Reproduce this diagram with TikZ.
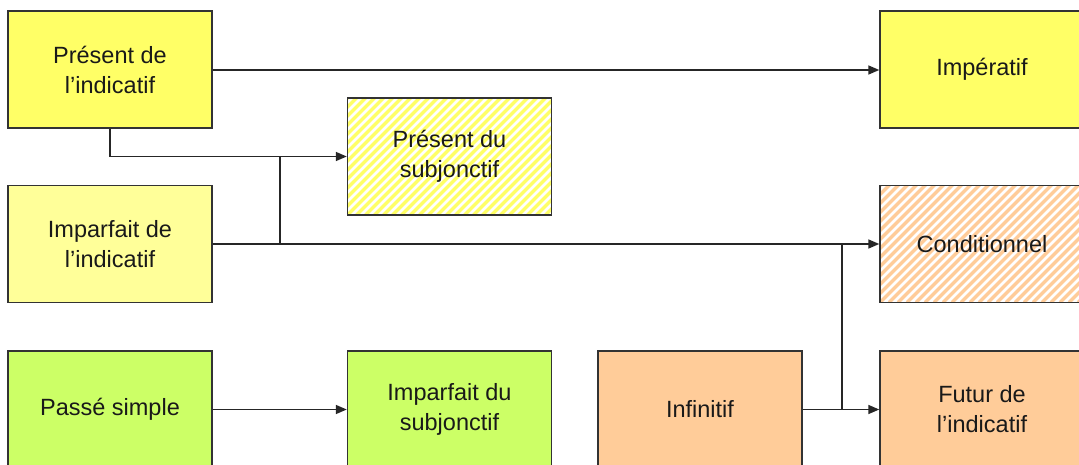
\documentclass[tikz,border=0pt]{standalone}
\usepackage{fontspec}
\setmainfont{Liberation Sans}
\usetikzlibrary{arrows.meta}
\definecolor{yelA}{HTML}{FFFF66}
\definecolor{yelB}{HTML}{FFFF99}
\definecolor{grn}{HTML}{CCFF66}
\definecolor{org}{HTML}{FFCC99}
\definecolor{edge}{HTML}{333333}
\tikzset{
  box/.style={draw=edge, line width=1.4pt, minimum width=204pt, minimum height=117pt,
    inner sep=0pt, align=center, font=\fontsize{23.5}{30}\selectfont, text=black!90},
  hatch/.style={path picture={
    \foreach \i in {-144,-135,...,225}
      \draw[#1, line width=3.3pt] ([xshift=\i pt]path picture bounding box.south west) -- ++(130pt,130pt);
  }},
  conn/.style={draw=black!85, line width=1.4pt},
  arr/.style={conn, -{Triangle[length=11pt,width=9pt]}}
}
\begin{document}
\begin{tikzpicture}[x=1pt,y=-1pt]
\useasboundingbox (0,0) rectangle (1079,465);
\clip (0,0) rectangle (1079,465);
\fill[white] (0,0) rectangle (1079,465);
\node[box, fill=yelA] (P1) at (110,69.5) {Présent de\\l’indicatif};
\node[box, fill=yelA] (Imp) at (982,69.5) {Impératif};
\node[box, fill=white, hatch=yelA] (PS) at (449.5,156.5) {Présent du\\subjonctif};
\node[box, fill=yelB] (II) at (110,244) {Imparfait de\\l’indicatif};
\node[box, fill=white, hatch=org] (Cond) at (982,244) {Conditionnel};
\node[box, fill=grn] (PassS) at (110,409.5) {Passé simple};
\node[box, fill=grn] (ImpS) at (449.5,409.5) {Imparfait du\\subjonctif};
\node[box, fill=org] (Inf) at (700,409.5) {Infinitif};
\node[box, fill=org] (Fut) at (982,409.5) {Futur de\\l’indicatif};
\coordinate (j1) at (280,244);
\coordinate (j2) at (842,244);
\draw[arr] (P1.east |- 0,70) -- (Imp.west |- 0,70);
\draw[arr] (P1.south) |- (PS.west);
\draw[arr] (II.east) -- (Cond.west);
\draw[conn] (j1) -- (j1 |- PS.west);
\draw[conn] (j2) -- (j2 |- Inf.east);
\draw[arr] (Inf.east) -- (Fut.west);
\draw[arr] (PassS.east) -- (ImpS.west);
\end{tikzpicture}
\end{document}
